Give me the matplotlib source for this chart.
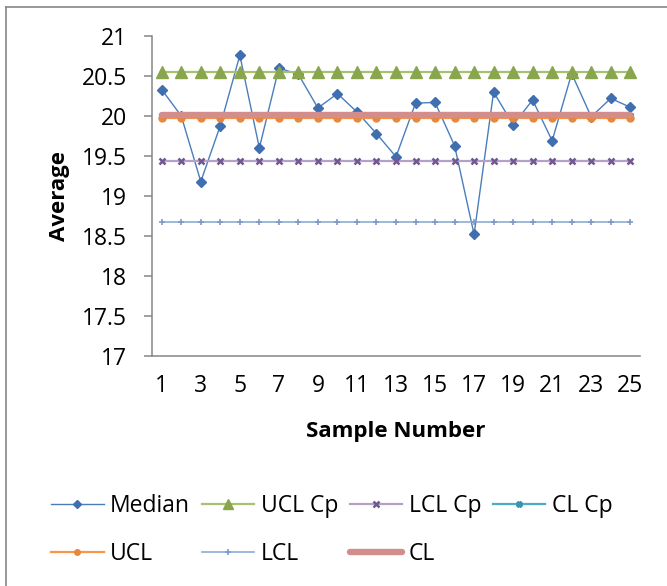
import numpy as np
import matplotlib
matplotlib.use("Agg")
import matplotlib.pyplot as plt
from matplotlib.lines import Line2D

plt.rcParams['font.family'] = ['Open Sans', 'DejaVu Sans']

# ============================================================
# Data
# ============================================================

samples = list(range(1, 26))

median = [20.33, 20.00, 19.18, 19.88, 20.76, 19.60, 20.60, 20.52, 20.10, 20.28,
          20.05, 19.78, 19.49, 20.16, 20.17, 19.63, 18.52, 20.30, 19.89, 20.20,
          19.69, 20.53, 19.99, 20.22, 20.11]

ucl_cp = [20.55] * 25
lcl_cp = [19.44] * 25
cl_cp = [20.00] * 25
ucl = [19.98] * 25
lcl = [18.67] * 25
cl = [20.01] * 25

x_ticklabels = [str(s) if s % 2 == 1 else "" for s in samples]

# ============================================================
# Figure
# ============================================================

W, H = 667, 586
fig = plt.figure(figsize=(W / 100, H / 100), dpi=100)

ax = fig.add_axes([152 / W, 1 - 356 / H, (640 - 152) / W, (356 - 36) / H])

x = np.arange(len(samples))

ax.plot(x, median, color='#4A7EBB', lw=1.0, marker='D', ms=4.8,
        mfc='#3F6FAF', mec='#3F6FAF', label='Median', zorder=3)
ax.plot(x, ucl_cp, color='#A6C26E', lw=1.6, marker='^', ms=8.5,
        mfc='#89A54E', mec='#89A54E', label='UCL Cp', zorder=4)
ax.plot(x, lcl_cp, color='#B3A2C7', lw=1.6, marker='x', ms=5, mew=1.8,
        mec='#71588F', label='LCL Cp', zorder=5)
ax.plot(x, cl_cp, color='#4BACC6', lw=1.6, marker='X', ms=5,
        mfc='#3795AE', mec='#3795AE', label='CL Cp', zorder=6)
ax.plot(x, ucl, color='#F79646', lw=1.6, marker='o', ms=5,
        mfc='#E8883A', mec='#E8883A', label='UCL', zorder=7)
ax.plot(x, lcl, color='#95B3D7', lw=1.3, marker='+', ms=5, mew=1.2,
        mec='#7E9BC8', label='LCL', zorder=8)
ax.plot(x, cl, color='#D38D8B', lw=4.6, solid_capstyle='round',
        label='CL', zorder=9)

# ============================================================
# Axes formatting
# ============================================================

ax.set_xlim(-0.5, len(samples) - 0.5)
ax.set_ylim(17, 21)
ax.set_yticks(np.arange(17, 21.01, 0.5))
ax.set_yticklabels(["17", "17.5", "18", "18.5", "19", "19.5", "20", "20.5", "21"])
ax.set_xticks(x)
ax.set_xticklabels(x_ticklabels)

for s in ['top', 'right']:
    ax.spines[s].set_visible(False)
for s in ['left', 'bottom']:
    ax.spines[s].set_color('#868686')
    ax.spines[s].set_linewidth(1.1)

ax.tick_params(axis='y', direction='out', length=6, width=1.1, color='#868686',
               pad=12, labelsize=16.5, labelcolor='black')
ax.tick_params(axis='x', length=0, pad=13, labelsize=16.5, labelcolor='black')

fig.text(396 / W, 1 - 432 / H, "Sample Number", ha='center', va='center',
         fontsize=16, fontweight='bold')
fig.text(59 / W, 1 - 196 / H, "Average", ha='center', va='center',
         rotation=90, fontsize=16, fontweight='bold')

# ============================================================
# Legend (row-major order like the original)
# ============================================================

handles, labels = ax.get_legend_handles_labels()
order = [0, 4, 1, 5, 2, 6, 3]
leg = fig.legend([handles[i] for i in order], [labels[i] for i in order],
                 loc='upper left', bbox_to_anchor=(51 / W, 1 - 494 / H),
                 ncol=4, frameon=False, fontsize=16.5, handlelength=2.3,
                 handletextpad=0.28, columnspacing=0.5, labelspacing=1.05,
                 borderpad=0, borderaxespad=0, markerscale=0.8)

# ============================================================
# Outer chart frame (top and left edges visible)
# ============================================================

fig.add_artist(Line2D([6 / W, 6 / W], [0, 1 - 6.5 / H], color='#868686', lw=1.2))
fig.add_artist(Line2D([6 / W, 1], [1 - 6.5 / H, 1 - 6.5 / H], color='#868686', lw=1.2))

fig.savefig("out.png", dpi=100)
